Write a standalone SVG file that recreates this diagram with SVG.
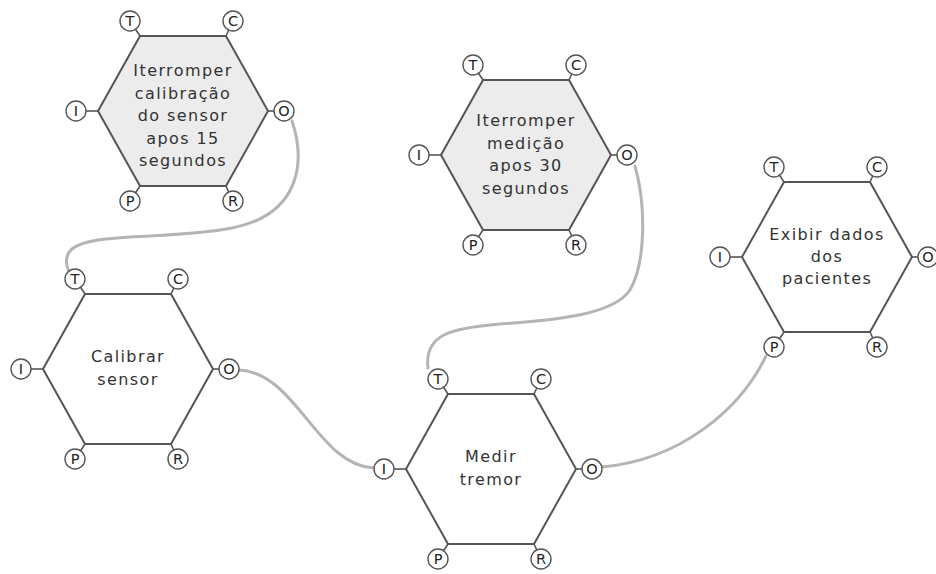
<svg xmlns="http://www.w3.org/2000/svg" width="936" height="574" viewBox="0 0 936 574">
  <style>
    .hex { stroke: #555; stroke-width: 2; stroke-linejoin: miter; }
    .hex.plain { fill: #ffffff; }
    .hex.shaded { fill: #ececec; }
    .stub { stroke: #555; stroke-width: 1.6; }
    .port { fill: #ffffff; stroke: #555; stroke-width: 1.4; }
    .pl { font-family: "DejaVu Sans", "Liberation Sans", sans-serif; font-size: 14.5px; fill: #222; text-anchor: middle; }
    .lbl { font-family: "DejaVu Sans", "Liberation Sans", sans-serif; font-size: 16px; letter-spacing: 1.4px; fill: #333; text-anchor: middle; }
    .wire { fill: none; stroke: #b4b4b4; stroke-width: 3; stroke-linecap: round; }
  </style>
  <defs>
    <polygon id="hexShape" points="-85,0 -43,-75 43,-75 85,0 43,75 -43,75"/>
    <!-- six port stubs + circles, shared by every node -->
    <g id="portRing">
      <line class="stub" x1="-43" y1="-75" x2="-53" y2="-90"/>
      <line class="stub" x1="43" y1="-75" x2="50" y2="-90"/>
      <line class="stub" x1="-85" y1="0" x2="-107" y2="0"/>
      <line class="stub" x1="85" y1="0" x2="101" y2="0"/>
      <line class="stub" x1="-43" y1="75" x2="-53" y2="90"/>
      <line class="stub" x1="43" y1="75" x2="50" y2="90"/>
      <circle class="port" cx="-53" cy="-90" r="10"/>
      <circle class="port" cx="50" cy="-90" r="10"/>
      <circle class="port" cx="-107" cy="0" r="10"/>
      <circle class="port" cx="101" cy="0" r="10"/>
      <circle class="port" cx="-53" cy="90" r="10"/>
      <circle class="port" cx="50" cy="90" r="10"/>
    </g>
  </defs>

  <!-- connectors -->
  <g id="connectors">
    <path class="wire" d="M 292 121 C 305 160, 302 214, 232 228 C 170 240, 92 232, 72 249 C 64 256, 66 265, 69 272"/>
    <path class="wire" d="M 635 166 C 646 205, 646 262, 630 290 C 614 314, 560 320, 500 324 C 452 328, 424 334, 428 368"/>
    <path class="wire" d="M 239 370 C 296 372, 318 466, 374 468"/>
    <path class="wire" d="M 602 467 C 680 460, 740 410, 766 356"/>
  </g>

  <!-- node: interromper calibração -->
  <g id="node-stop-calibration" transform="translate(183,111)">
    <use href="#hexShape" class="hex shaded"/>
    <use href="#portRing"/>
    <text class="pl" x="-53" y="-85">T</text>
    <text class="pl" x="50" y="-85">C</text>
    <text class="pl" x="-107" y="5">I</text>
    <text class="pl" x="101" y="5">O</text>
    <text class="pl" x="-53" y="95">P</text>
    <text class="pl" x="50" y="95">R</text>
    <text class="lbl" x="0" y="-35">Iterromper</text>
    <text class="lbl" x="0" y="-12.5">calibração</text>
    <text class="lbl" x="0" y="10">do sensor</text>
    <text class="lbl" x="0" y="32.5">apos 15</text>
    <text class="lbl" x="0" y="55">segundos</text>
  </g>

  <!-- node: interromper medição -->
  <g id="node-stop-measure" transform="translate(526,155)">
    <use href="#hexShape" class="hex shaded"/>
    <use href="#portRing"/>
    <text class="pl" x="-53" y="-85">T</text>
    <text class="pl" x="50" y="-85">C</text>
    <text class="pl" x="-107" y="5">I</text>
    <text class="pl" x="101" y="5">O</text>
    <text class="pl" x="-53" y="95">P</text>
    <text class="pl" x="50" y="95">R</text>
    <text class="lbl" x="0" y="-29">Iterromper</text>
    <text class="lbl" x="0" y="-6.5">medição</text>
    <text class="lbl" x="0" y="16">apos 30</text>
    <text class="lbl" x="0" y="38.5">segundos</text>
  </g>

  <!-- node: exibir dados -->
  <g id="node-show-data" transform="translate(827,257)">
    <use href="#hexShape" class="hex plain"/>
    <use href="#portRing"/>
    <text class="pl" x="-53" y="-85">T</text>
    <text class="pl" x="50" y="-85">C</text>
    <text class="pl" x="-107" y="5">I</text>
    <text class="pl" x="101" y="5">O</text>
    <text class="pl" x="-53" y="95">P</text>
    <text class="pl" x="50" y="95">R</text>
    <text class="lbl" x="0" y="-17">Exibir dados</text>
    <text class="lbl" x="0" y="5">dos</text>
    <text class="lbl" x="0" y="27">pacientes</text>
  </g>

  <!-- node: calibrar sensor -->
  <g id="node-calibrate" transform="translate(128,369)">
    <use href="#hexShape" class="hex plain"/>
    <use href="#portRing"/>
    <text class="pl" x="-53" y="-85">T</text>
    <text class="pl" x="50" y="-85">C</text>
    <text class="pl" x="-107" y="5">I</text>
    <text class="pl" x="101" y="5">O</text>
    <text class="pl" x="-53" y="95">P</text>
    <text class="pl" x="50" y="95">R</text>
    <text class="lbl" x="0" y="-7">Calibrar</text>
    <text class="lbl" x="0" y="16">sensor</text>
  </g>

  <!-- node: medir tremor -->
  <g id="node-measure" transform="translate(491,469)">
    <use href="#hexShape" class="hex plain"/>
    <use href="#portRing"/>
    <text class="pl" x="-53" y="-85">T</text>
    <text class="pl" x="50" y="-85">C</text>
    <text class="pl" x="-107" y="5">I</text>
    <text class="pl" x="101" y="5">O</text>
    <text class="pl" x="-53" y="95">P</text>
    <text class="pl" x="50" y="95">R</text>
    <text class="lbl" x="0" y="-7">Medir</text>
    <text class="lbl" x="0" y="16">tremor</text>
  </g>
</svg>
